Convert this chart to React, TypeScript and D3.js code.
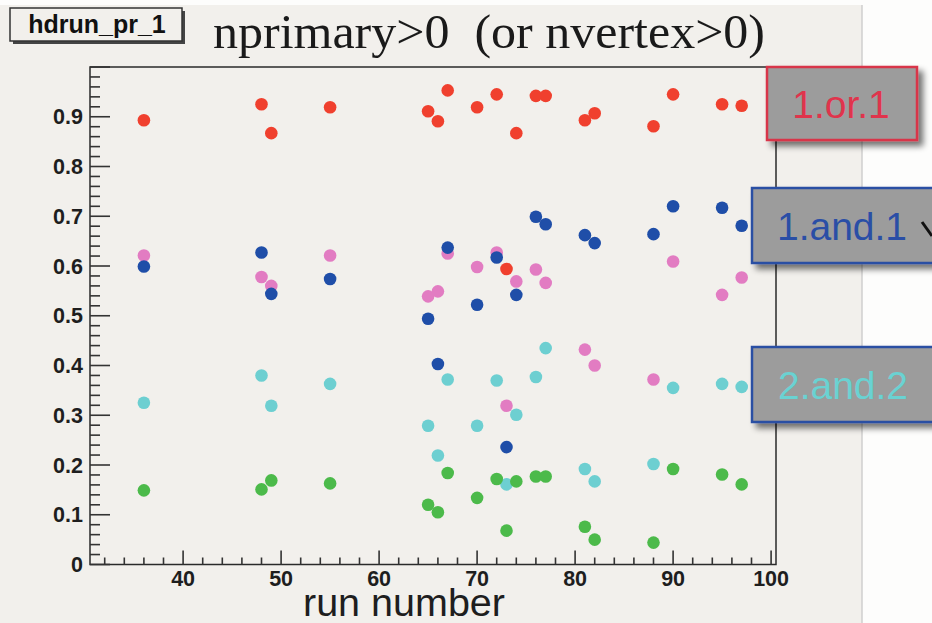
import React from "react";
import * as d3 from "d3";

// ---- data ----
const runs = [36, 48, 49, 55, 65, 66, 67, 70, 72, 73, 74, 76, 77, 81, 82, 88, 90, 95, 97];
const orOne = [0.893, 0.925, 0.867, 0.919, 0.911, 0.891, 0.953, 0.919, 0.945, 0.594, 0.867, 0.942, 0.942, 0.893, 0.907, 0.881, 0.945, 0.925, 0.922];
const andOne = [0.599, 0.627, 0.544, 0.574, 0.494, 0.403, 0.637, 0.522, 0.617, 0.236, 0.542, 0.699, 0.684, 0.662, 0.646, 0.664, 0.72, 0.717, 0.681];
const pinkSeries = [0.621, 0.578, 0.56, 0.621, 0.539, 0.549, 0.625, 0.598, 0.627, 0.319, 0.569, 0.593, 0.566, 0.432, 0.4, 0.372, 0.609, 0.542, 0.577];
const andTwo = [0.325, 0.38, 0.319, 0.363, 0.279, 0.219, 0.372, 0.279, 0.37, 0.161, 0.301, 0.377, 0.435, 0.192, 0.167, 0.202, 0.355, 0.363, 0.357];
const greenSeries = [0.149, 0.151, 0.169, 0.163, 0.12, 0.105, 0.184, 0.134, 0.172, 0.068, 0.167, 0.177, 0.177, 0.076, 0.05, 0.044, 0.192, 0.181, 0.161];

const xTickValues = [40, 50, 60, 70, 80, 90, 100];
const yTickValues = [0, 0.1, 0.2, 0.3, 0.4, 0.5, 0.6, 0.7, 0.8, 0.9];
const yTickLabels = ["0", "0.1", "0.2", "0.3", "0.4", "0.5", "0.6", "0.7", "0.8", "0.9"];
const legendLabels = ["1.or.1", "1.and.1", "2.and.2"];
const titleText = "nprimary>0  (or nvertex>0)";
const histName = "hdrun_pr_1";
const xTitle = "run number";

const W = 932;
const H = 623;
const BG = "#f2f0ec";

export default function App() {
  const x = d3.scaleLinear().domain([30.5, 100.5]).range([90, 776]);
  const y = d3.scaleLinear().domain([0, 1]).range([564.5, 67]);

  const series = [
    { values: pinkSeries, color: "#e27cc2" },
    { values: andTwo, color: "#6dcfd1" },
    { values: greenSeries, color: "#4cba4a" },
    { values: andOne, color: "#1f4ea8" },
    { values: orOne, color: "#f0402e" },
  ];

  const yMinor = d3.range(0, 1.0001, 0.02);
  const xMinor = d3.range(32, 100.001, 2);
  const sans = "'Liberation Sans', Arial, Helvetica, sans-serif";

  const boxes = [
    { label: legendLabels[0], x: 767, y: 67, w: 150, h: 73, stroke: "#d8344a", text: "#e0344c", tx: 841 },
    { label: legendLabels[1], x: 752, y: 188, w: 200, h: 75, stroke: "#2c4fa3", text: "#2a4ea6", tx: 842 },
    { label: legendLabels[2], x: 752, y: 347, w: 200, h: 75, stroke: "#2c4fa3", text: "#6ad2d2", tx: 843 },
  ];

  return (
    <svg
      width={W}
      height={H}
      style={{ position: "absolute", left: 0, top: 0, background: "#fdfdfc" }}
      xmlns="http://www.w3.org/2000/svg"
    >
      <defs>
        <filter id="shadow" x="-20%" y="-20%" width="150%" height="160%">
          <feGaussianBlur in="SourceAlpha" stdDeviation="3" />
          <feOffset dx="5" dy="5" result="ob" />
          <feComponentTransfer>
            <feFuncA type="linear" slope="0.55" />
          </feComponentTransfer>
          <feMerge>
            <feMergeNode />
            <feMergeNode in="SourceGraphic" />
          </feMerge>
        </filter>
      </defs>

      {/* canvas */}
      <rect x={0} y={5} width={862} height={H - 5} fill={BG} />
      <line x1={862} y1={5} x2={862} y2={H} stroke="#cfcfcf" strokeWidth={1.5} />

      {/* frame */}
      <rect x={90} y={67} width={686} height={497.5} fill={BG} stroke="#2a2a2a" strokeWidth={1.5} />

      {/* y ticks */}
      {yMinor.map((v, i) => (
        <line key={"ym" + i} x1={90} x2={i % 5 === 0 ? 110 : 100} y1={y(v)} y2={y(v)} stroke="#333" strokeWidth={1.6} />
      ))}
      {/* x ticks */}
      {xMinor.map((v, i) => (
        <line key={"xm" + i} x1={x(v)} x2={x(v)} y1={y(0)} y2={y(0) - (v % 10 === 0 ? 14 : 7)} stroke="#333" strokeWidth={1.6} />
      ))}

      {/* y tick labels */}
      {yTickValues.map((v, i) => (
        <text key={"yl" + i} x={83} y={y(v)} dy="0.36em" textAnchor="end" fontFamily={sans} fontWeight="bold" fontSize={21.5} fill="#1e1e1e">
          {yTickLabels[i]}
        </text>
      ))}
      {/* x tick labels */}
      {xTickValues.map((v) => (
        <text key={"xl" + v} x={x(v)} y={586} textAnchor="middle" fontFamily={sans} fontWeight="bold" fontSize={21.5} fill="#1e1e1e">
          {v}
        </text>
      ))}

      {/* x title */}
      <text x={404} y={616} textAnchor="middle" fontFamily={sans} fontSize={39.5} fill="#1e1e1e">
        {xTitle}
      </text>

      {/* points */}
      {series.map((s, si) => (
        <g key={"s" + si}>
          {s.values.map((v, i) => (
            <circle key={i} cx={x(runs[i])} cy={y(v)} r={6.3} fill={s.color} />
          ))}
        </g>
      ))}

      {/* title */}
      <text
        x={213}
        y={48}
        fontFamily="'Liberation Serif', 'Times New Roman', serif"
        fontSize={48}
        fill="#1a1a1a"
        style={{ whiteSpace: "pre" }}
        textLength={552}
        lengthAdjust="spacingAndGlyphs"
      >
        {titleText}
      </text>

      {/* hist name box */}
      <rect x={13} y={11} width={172} height={33} fill="#444" />
      <rect x={10} y={8} width={172} height={33} fill={BG} stroke="#333" strokeWidth={1.5} />
      <text x={97} y={33} textAnchor="middle" fontFamily={sans} fontWeight="bold" fontSize={25} fill="#111">
        {histName}
      </text>

      {/* legend boxes */}
      {boxes.map((b, i) => (
        <g key={"b" + i}>
          <rect x={b.x} y={b.y} width={b.w} height={b.h} fill="#9c9c9c" stroke={b.stroke} strokeWidth={2.5} filter="url(#shadow)" />
          <text x={b.tx} y={b.y + b.h / 2} dy="0.36em" textAnchor="middle" fontFamily={sans} fontSize={39} fill={b.text}>
            {b.label}
          </text>
        </g>
      ))}
      <line x1={922} y1={222} x2={932} y2={236} stroke="#111" strokeWidth={3} />
    </svg>
  );
}
